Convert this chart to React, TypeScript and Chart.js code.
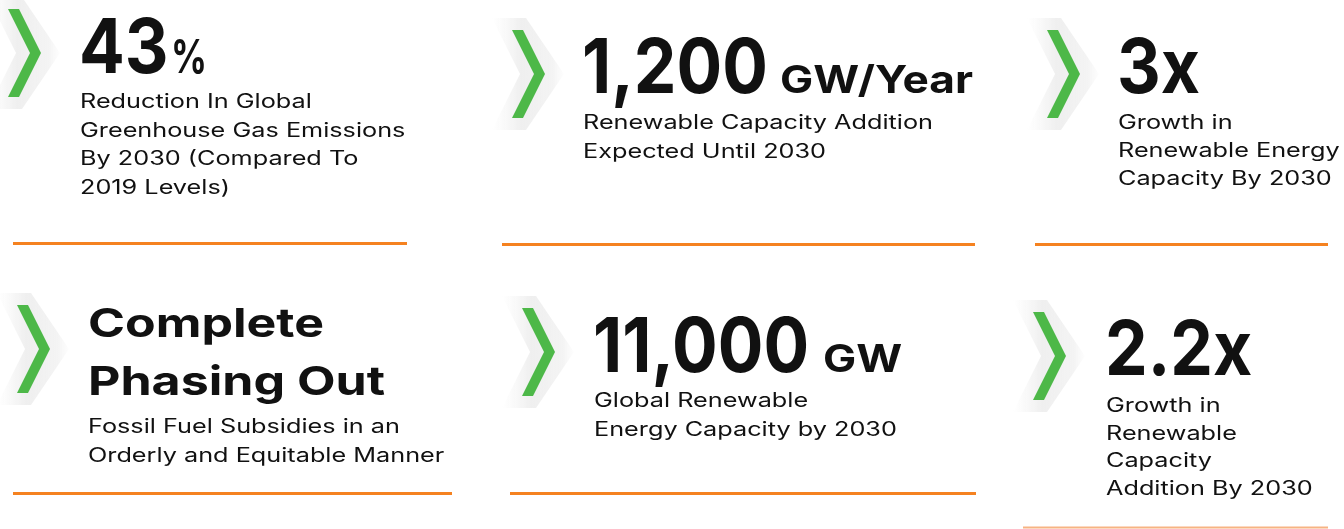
import React, { useEffect, useRef } from "react";
import { Chart, registerables } from "chart.js";

Chart.register(...registerables);

// ---- content ----
const headlines: string[][] = [["43"], ["1,200"], ["3x"], ["Complete", "Phasing Out"], ["11,000"], ["2.2x"]];
const units: string[] = ["%", "GW/Year", "", "", "GW", ""];
const descriptions: string[][] = [
  ["Reduction In Global", "Greenhouse Gas Emissions", "By 2030 (Compared To", "2019 Levels)"],
  ["Renewable Capacity Addition", "Expected Until 2030"],
  ["Growth in", "Renewable Energy", "Capacity By 2030"],
  ["Fossil Fuel Subsidies in an", "Orderly and Equitable Manner"],
  ["Global Renewable", "Energy Capacity by 2030"],
  ["Growth in", "Renewable", "Capacity", "Addition By 2030"],
];

// ---- layout (page pixels) ----
const chevLeft = [8, 512, 1047, 17, 522, 1033];
const chevTop = [9, 30, 30, 305, 308, 312];
const textX = [79, 582, 1117, 87, 593, 1105];
const headBase = [73, 93, 93, 337, 372, 375];
const headStep = [0, 0, 0, 58, 0, 0];
const unitX = [171, 780, 0, 0, 823, 0];
const descBase = [108, 129, 129, 433, 407, 412];
const descStep = [28.5, 28.5, 28, 29, 28.5, 27.7];
const ruleY = [243.5, 244.5, 244.5, 493.5, 493.5, 527.5];
const ruleX0 = [13, 502, 1035, 13, 510, 1023];
const ruleX1 = [407, 975, 1328, 452, 976, 1328];
const ruleColor = ["#F58220", "#F58220", "#F58220", "#F58220", "#F58220", "#F7B383"];

const W = 1344;
const H = 529;
const FONT = "Inter, 'Noto Sans', sans-serif";

function makeChevron(): HTMLCanvasElement {
  const c = document.createElement("canvas");
  c.width = 76;
  c.height = 116;
  const ctx = c.getContext("2d")!;
  const ox = 20, oy = 14, w = 33, h = 88, t = 11;
  // soft grey shadow chevron
  const g = ctx.createLinearGradient(0, 0, 76, 0);
  g.addColorStop(0, "rgba(235,235,235,0)");
  g.addColorStop(0.38, "rgba(226,226,226,0.55)");
  g.addColorStop(0.8, "rgba(232,232,232,0.5)");
  g.addColorStop(1, "rgba(245,245,245,0)");
  ctx.fillStyle = g;
  ctx.beginPath();
  ctx.moveTo(ox - 20, oy - 12);
  ctx.lineTo(ox + 14, oy - 12);
  ctx.lineTo(ox + 52, oy + h / 2);
  ctx.lineTo(ox + 14, oy + h + 12);
  ctx.lineTo(ox - 20, oy + h + 12);
  ctx.lineTo(ox + 8, oy + h / 2);
  ctx.closePath();
  ctx.fill();
  // green chevron
  ctx.fillStyle = "#4DB848";
  ctx.beginPath();
  ctx.moveTo(ox, oy);
  ctx.lineTo(ox + t, oy);
  ctx.lineTo(ox + w, oy + h / 2);
  ctx.lineTo(ox + t, oy + h);
  ctx.lineTo(ox, oy + h);
  ctx.lineTo(ox + w - t, oy + h / 2);
  ctx.closePath();
  ctx.fill();
  return c;
}

function scaleFor(ctx: CanvasRenderingContext2D, font: string, text: string, target: number) {
  ctx.save();
  ctx.font = font;
  const m = ctx.measureText(text).width;
  ctx.restore();
  return m > 0 ? target / m : 1;
}

function drawText(ctx: CanvasRenderingContext2D, text: string, x: number, y: number, font: string, sx: number) {
  ctx.save();
  ctx.font = font;
  ctx.fillStyle = "#111111";
  ctx.textBaseline = "alphabetic";
  ctx.textAlign = "left";
  ctx.translate(x, y);
  ctx.scale(sx, 1);
  ctx.fillText(text, 0, 0);
  ctx.restore();
}

const textPlugin = {
  id: "kpiText",
  afterDatasetsDraw(chart: any) {
    const ctx: CanvasRenderingContext2D = chart.ctx;
    const xs = chart.scales.x;
    const ys = chart.scales.y;
    const headFont = `700 76px ${FONT}`;
    const unitFont = `700 38px ${FONT}`;
    const pctFont = `700 46px ${FONT}`;
    const titleFont = `700 40px ${FONT}`;
    const descFont = `400 19.5px ${FONT}`;
    const sHead = scaleFor(ctx, headFont, "1,200", 186);
    const sUnit = scaleFor(ctx, unitFont, "GW/Year", 193);
    const sPct = scaleFor(ctx, pctFont, "%", 36);
    const sTitle = scaleFor(ctx, titleFont, "Phasing Out", 297);
    const sDesc = scaleFor(ctx, descFont, "Renewable Capacity Addition", 350);
    headlines.forEach((lines, i) => {
      const multi = lines.length > 1;
      lines.forEach((ln, j) => {
        const x = xs.getPixelForValue(textX[i] + (multi ? 1 : 0));
        const y = ys.getPixelForValue(headBase[i] + j * headStep[i]);
        if (multi) drawText(ctx, ln, x, y, titleFont, sTitle);
        else drawText(ctx, ln, x, y, headFont, sHead);
      });
      if (units[i]) {
        const ux = xs.getPixelForValue(unitX[i]);
        const uy = ys.getPixelForValue(headBase[i]);
        if (units[i] === "%") drawText(ctx, units[i], ux, uy, pctFont, sPct);
        else drawText(ctx, units[i], ux, uy, unitFont, sUnit);
      }
      descriptions[i].forEach((ln, j) => {
        const x = xs.getPixelForValue(textX[i] + 1);
        const y = ys.getPixelForValue(descBase[i] + j * descStep[i]);
        drawText(ctx, ln, x, y, descFont, sDesc);
      });
    });
  },
};

export default function App() {
  const ref = useRef<HTMLCanvasElement | null>(null);
  useEffect(() => {
    document.body.style.margin = "0";
    document.body.style.background = "#ffffff";
    const canvas = ref.current;
    if (!canvas) return;
    const chev = makeChevron();
    const datasets: any[] = headlines.map((_, i) => ({
      type: "line",
      label: "rule" + i,
      data: [
        { x: ruleX0[i], y: ruleY[i] },
        { x: ruleX1[i], y: ruleY[i] },
      ],
      borderColor: ruleColor[i],
      borderWidth: i === 5 ? 2 : 3,
      pointRadius: 0,
      showLine: true,
      fill: false,
      clip: false,
    }));
    datasets.push({
      type: "scatter",
      label: "chevrons",
      data: chevLeft.map((x, i) => ({ x: x + 18, y: chevTop[i] + 44 })),
      pointStyle: chev,
      pointRadius: 20,
      backgroundColor: "#4DB848",
      clip: false,
    });
    const chart = new Chart(canvas, {
      type: "scatter",
      data: { datasets },
      options: {
        animation: false,
        responsive: false,
        maintainAspectRatio: false,
        devicePixelRatio: 1,
        events: [],
        layout: { padding: 0, autoPadding: false },
        plugins: { legend: { display: false }, tooltip: { enabled: false } },
        scales: {
          x: { type: "linear", min: 0, max: W, display: false },
          y: { type: "linear", min: 0, max: H, reverse: true, display: false },
        },
      },
      plugins: [textPlugin],
    } as any);
    return () => chart.destroy();
  }, []);
  return (
    <div style={{ width: W, height: H, background: "#fff" }}>
      <canvas ref={ref} width={W} height={H} style={{ display: "block", width: W, height: H }} />
    </div>
  );
}
